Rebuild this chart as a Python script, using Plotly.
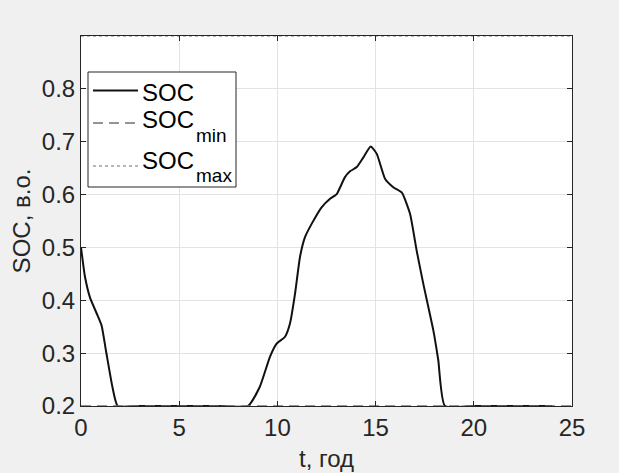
import plotly.graph_objects as go

# Data
t_soc = [0, 0.2, 0.46, 0.8, 1.05, 1.27, 1.6, 1.87, 3, 5, 7, 8.5, 9.1, 9.62, 9.96, 10.39,
         10.64, 10.9, 11.15, 11.4, 11.75, 12.25, 12.68, 13.02, 13.44, 13.7, 14.04, 14.37,
         14.75, 15.06, 15.48, 15.9, 16.33, 16.75, 17.09, 17.43, 17.94, 18.19, 18.53, 20, 22, 24]
soc = [0.5, 0.445, 0.405, 0.375, 0.352, 0.305, 0.236, 0.2, 0.2, 0.2, 0.2, 0.2, 0.236, 0.293, 0.318, 0.331,
       0.356, 0.413, 0.482, 0.519, 0.545, 0.576, 0.592, 0.601, 0.633, 0.644, 0.652, 0.670,
       0.691, 0.677, 0.630, 0.614, 0.604, 0.564, 0.494, 0.431, 0.343, 0.287, 0.2, 0.2, 0.2, 0.2]
t_lim = [0, 25]
soc_min = [0.2, 0.2]
soc_max = [0.9, 0.9]

x_ticks = [0, 5, 10, 15, 20, 25]
y_ticks = [0.2, 0.3, 0.4, 0.5, 0.6, 0.7, 0.8]

FONT = "Liberation Sans, Arial, sans-serif"
TXT = "#262626"
W, H = 619, 473
ML, MR, MT, MB = 81, 47, 36, 67
PW, PH = W - ML - MR, H - MT - MB

SOC_STYLE = dict(color="#111111", width=2)
MIN_STYLE = dict(color="#707070", width=1.5, dash="10px,6px")
MAX_STYLE = dict(color="#707070", width=1.2, dash="dot")


def px(x):
    return (x - ML) / PW


def py(y):
    return (H - MB - y) / PH


fig = go.Figure()
fig.add_trace(go.Scatter(x=t_soc, y=soc, mode="lines", name="SOC",
                         line=dict(shape="spline", smoothing=0.5, **SOC_STYLE)))
fig.add_trace(go.Scatter(x=t_lim, y=soc_min, mode="lines", name="SOCmin", line=MIN_STYLE))
fig.add_trace(go.Scatter(x=t_lim, y=soc_max, mode="lines", name="SOCmax", line=MAX_STYLE))

axis_common = dict(showline=True, linecolor=TXT, linewidth=1, mirror="ticks",
                   ticks="inside", ticklen=5, tickcolor=TXT, showgrid=True,
                   gridcolor="#e3e3e3", gridwidth=1, zeroline=False, automargin=False,
                   tickfont=dict(family=FONT, size=24, color=TXT))

fig.update_xaxes(range=[0, 25], tickvals=x_ticks, ticktext=[str(v) for v in x_ticks],
                 title=dict(text="t, год", font=dict(family=FONT, size=24, color=TXT), standoff=10),
                 **axis_common)
fig.update_yaxes(range=[0.2, 0.9], tickvals=y_ticks, ticktext=[f"{v:.1f}" for v in y_ticks],
                 title=dict(text="SOC, в.о.", font=dict(family=FONT, size=24, color=TXT), standoff=4),
                 **axis_common)

# Legend drawn as a MATLAB-style box
shapes = [dict(type="rect", xref="paper", yref="paper", x0=px(88), x1=px(236), y0=py(187), y1=py(72),
               fillcolor="white", line=dict(color=TXT, width=1), layer="above")]
rows = [(90.5, SOC_STYLE, 92, None, None),
        (123, MIN_STYLE, 119, "min", 135),
        (166, MAX_STYLE, 160, "max", 175)]
annotations = []
for ly, style, ty, sub, sy in rows:
    shapes.append(dict(type="line", xref="paper", yref="paper", x0=px(93), x1=px(138),
                       y0=py(ly), y1=py(ly), line=style, layer="above"))
    annotations.append(dict(text="SOC", xref="paper", yref="paper", x=px(140), y=py(ty),
                            xanchor="left", yanchor="middle", showarrow=False,
                            font=dict(family=FONT, size=24, color="black")))
    if sub:
        annotations.append(dict(text=sub, xref="paper", yref="paper", x=px(194), y=py(sy),
                                xanchor="left", yanchor="middle", showarrow=False,
                                font=dict(family=FONT, size=19, color="black")))

fig.update_layout(
    width=W, height=H,
    margin=dict(l=ML, r=MR, t=MT, b=MB),
    paper_bgcolor="#f0f0f0", plot_bgcolor="white",
    font=dict(family=FONT, size=24, color="black"),
    showlegend=False,
    shapes=shapes, annotations=annotations,
)

fig.write_html("out.html")
